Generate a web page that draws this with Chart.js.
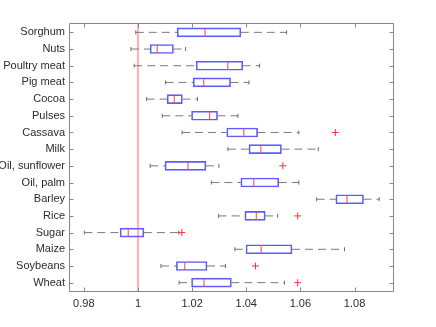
<!DOCTYPE html>
<html>
<head>
<meta charset="utf-8">
<script src="https://cdn.jsdelivr.net/npm/chart.js@4/dist/chart.umd.min.js"></script>
<style>
html,body{margin:0;padding:0;background:#fff;}
#wrap{width:436px;height:327px;position:relative;}
</style>
</head>
<body>
<div id="wrap"><canvas id="c" width="436" height="327"></canvas></div>
<script>
const categories = ['Sorghum','Nuts','Poultry meat','Pig meat','Cocoa','Pulses','Cassava','Milk','Oil, sunflower','Oil, palm','Barley','Rice','Sugar','Maize','Soybeans','Wheat'];
const whiskerLow  = [0.9992,0.9974,0.9986,1.0102,1.0032,1.0090,1.0163,1.0332,1.0045,1.0271,1.0660,1.0298,0.9802,1.0358,1.0085,1.0152];
const quartile1   = [1.0145,1.0045,1.0215,1.0204,1.0108,1.0198,1.0328,1.0410,1.0100,1.0380,1.0731,1.0395,0.9934,1.0399,1.0142,1.0198];
const medians     = [1.0248,1.0071,1.0332,1.0243,1.0134,1.0265,1.0391,1.0454,1.0185,1.0428,1.0772,1.0437,0.9964,1.0455,1.0173,1.0244];
const quartile3   = [1.0380,1.0131,1.0387,1.0342,1.0164,1.0294,1.0442,1.0530,1.0251,1.0520,1.0833,1.0470,1.0022,1.0569,1.0255,1.0345];
const whiskerHigh = [1.0549,1.0176,1.0449,1.0410,1.0220,1.0369,1.0594,1.0666,1.0299,1.0594,1.0891,1.0516,1.0151,1.0763,1.0323,1.0541];
const outlierCategories = ['Cassava','Oil, sunflower','Rice','Sugar','Soybeans','Wheat'];
const outlierValues     = [1.0729,1.0535,1.0590,1.0162,1.0434,1.0590];
const referenceValue = 1;
const xTickValues = [0.98,1,1.02,1.04,1.06,1.08];
const xMin = 0.9749, xMax = 1.0942;

const pos = i => i + 1;
const boxData = categories.map((c,i)=>({x:[quartile1[i], quartile3[i]], y:pos(i)}));
const medianData = categories.map((c,i)=>({x:medians[i], y:pos(i)}));
const capData = [];
const whiskerData = [];
categories.forEach((c,i)=>{
  capData.push({x:whiskerLow[i], y:pos(i)}, {x:whiskerHigh[i], y:pos(i)});
  whiskerData.push({x:whiskerLow[i], y:pos(i)}, {x:quartile1[i], y:pos(i)}, {x:null, y:null});
  whiskerData.push({x:quartile3[i], y:pos(i)}, {x:whiskerHigh[i], y:pos(i)}, {x:null, y:null});
});
const outlierData = outlierCategories.map((c,k)=>({x:outlierValues[k], y:pos(categories.indexOf(c))}));
const refData = [{x:referenceValue, y:0.5}, {x:referenceValue, y:categories.length+0.5}];

const frameColor = '#878787';
const framePlugin = {
  id:'frame',
  afterDraw(chart){
    const ctx = chart.ctx, a = chart.chartArea;
    const xs = chart.scales.x, ys = chart.scales.y;
    ctx.save();
    ctx.strokeStyle = frameColor; ctx.lineWidth = 1;
    const L = Math.round(a.left)-0.5, R = Math.round(a.right)+0.5, T = Math.round(a.top)-0.5, B = Math.round(a.bottom)+0.5;
    ctx.beginPath();
    ctx.rect(L, T, R-L, B-T);
    const tl = 4;
    xs.ticks.forEach(t=>{
      const px = Math.round(xs.getPixelForValue(t.value))+0.5;
      ctx.moveTo(px, B); ctx.lineTo(px, B-tl);
      ctx.moveTo(px, T); ctx.lineTo(px, T+tl);
    });
    ys.ticks.forEach(t=>{
      const py = Math.round(ys.getPixelForValue(t.value))+0.5;
      ctx.moveTo(L, py); ctx.lineTo(L+tl, py);
      ctx.moveTo(R, py); ctx.lineTo(R-tl, py);
    });
    ctx.stroke();
    ctx.restore();
  }
};

new Chart(document.getElementById('c'), {
  type:'scatter',
  data:{
    datasets:[
      {type:'scatter', data:refData, showLine:true, borderColor:'rgba(255,60,60,0.4)', borderWidth:2, pointRadius:0, order:0},
      {type:'scatter', data:outlierData, pointStyle:'cross', pointRadius:3.5, borderColor:'#ff3030', borderWidth:1, order:1},
      {type:'scatter', data:medianData, pointStyle:'line', rotation:90, pointRadius:4, borderColor:'#ff4040', borderWidth:1, order:2},
      {type:'bar', indexAxis:'y', data:boxData, barThickness:9, borderWidth:1, borderColor:'#5c5cff', backgroundColor:'rgba(255,255,255,0)', borderSkipped:false, order:3},
      {type:'scatter', data:capData, pointStyle:'line', rotation:90, pointRadius:2, borderColor:'#6a6a6a', borderWidth:1, order:4},
      {type:'scatter', data:whiskerData, showLine:true, spanGaps:false, borderDash:[8,5], borderColor:'#7a7a7a', borderWidth:1, pointRadius:0, order:5}
    ]
  },
  options:{
    responsive:false, animation:false, maintainAspectRatio:false,
    layout:{padding:{top:24, right:43, bottom:0, left:0}},
    plugins:{legend:{display:false}, tooltip:{enabled:false}},
    scales:{
      x:{type:'linear', min:xMin, max:xMax, offset:false,
        grid:{display:false, drawTicks:false, offset:false}, border:{display:false},
        afterBuildTicks:s=>{ s.ticks = xTickValues.map(v=>({value:v})); },
        afterFit:s=>{ s.height = 36; },
        ticks:{padding:6, color:'#2b2b2b', font:{family:'Liberation Sans, Arial, sans-serif', size:11},
          callback:v=>String(+(+v).toFixed(2))}
      },
      y:{type:'linear', min:0.5, max:categories.length+0.5, reverse:true, offset:false,
        grid:{display:false, drawTicks:false, offset:false}, border:{display:false},
        afterBuildTicks:s=>{ s.ticks = categories.map((c,i)=>({value:pos(i)})); },
        afterFit:s=>{ s.width = 70; },
        ticks:{padding:5, color:'#2b2b2b', font:{family:'Liberation Sans, Arial, sans-serif', size:11},
          callback:v=>categories[Math.round(v)-1]}
      }
    }
  },
  plugins:[framePlugin]
});
</script>
</body>
</html>
